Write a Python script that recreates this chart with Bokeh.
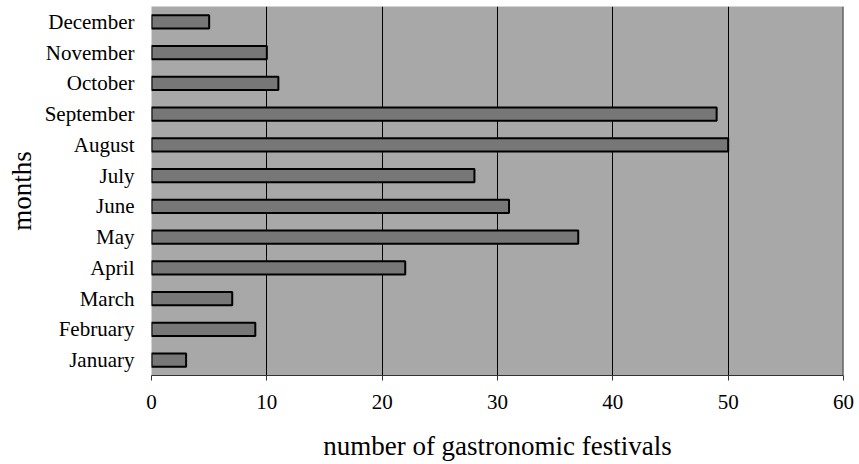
from bokeh.plotting import figure
from bokeh.models import FactorRange, Range1d, FixedTicker, Span
from bokeh.embed import file_html
from bokeh.resources import INLINE

months = ["January", "February", "March", "April", "May", "June", "July",
          "August", "September", "October", "November", "December"]
festivals = [3, 9, 7, 22, 37, 31, 28, 50, 49, 11, 10, 5]
x_ticks = [0, 10, 20, 30, 40, 50, 60]

FONT = "Liberation Serif"

p = figure(width=859, height=464, output_backend="svg", toolbar_location=None,
           y_range=FactorRange(*months, range_padding=0), x_range=Range1d(0, 60),
           min_border_left=151, min_border_right=16, min_border_top=6, min_border_bottom=89)

p.background_fill_color = "#a8a8a8"
p.border_fill_color = "white"
p.outline_line_color = None

p.hbar(y=months, right=festivals, left=0, height=0.43,
       fill_color="#777777", line_color="black", line_width=2)

# grid
p.ygrid.grid_line_color = None
p.xgrid.ticker = FixedTicker(ticks=[10, 20, 30, 40, 50])
p.xgrid.grid_line_color = "black"
p.xgrid.grid_line_width = 1
p.xgrid.grid_line_alpha = 1.0
p.add_layout(Span(location=60, dimension="height", line_color="#444444", line_width=2))

# x axis
xa = p.xaxis[0]
xa.ticker = FixedTicker(ticks=x_ticks)
xa.axis_line_color = "#333333"
xa.axis_line_width = 1
xa.major_tick_out = 5
xa.major_tick_in = 0
xa.minor_tick_out = 0
xa.minor_tick_in = 0
xa.major_tick_line_color = "#333333"
xa.major_label_text_font = FONT
xa.major_label_text_font_size = "21px"
xa.major_label_text_color = "black"
xa.major_label_standoff = 14
xa.axis_label = "number of gastronomic festivals"
xa.axis_label_text_font = FONT
xa.axis_label_text_font_size = "27px"
xa.axis_label_text_font_style = "normal"
xa.axis_label_text_color = "black"
xa.axis_label_standoff = 19

# y axis
ya = p.yaxis[0]
ya.axis_line_color = None
ya.major_tick_line_color = None
ya.minor_tick_line_color = None
ya.major_label_text_font = FONT
ya.major_label_text_font_size = "21px"
ya.major_label_text_color = "black"
ya.major_label_standoff = 11
ya.axis_label = "months"
ya.axis_label_text_font = FONT
ya.axis_label_text_font_size = "27px"
ya.axis_label_text_font_style = "normal"
ya.axis_label_text_color = "black"
ya.axis_label_standoff = 5

open("out.html", "w").write(file_html(p, INLINE))
